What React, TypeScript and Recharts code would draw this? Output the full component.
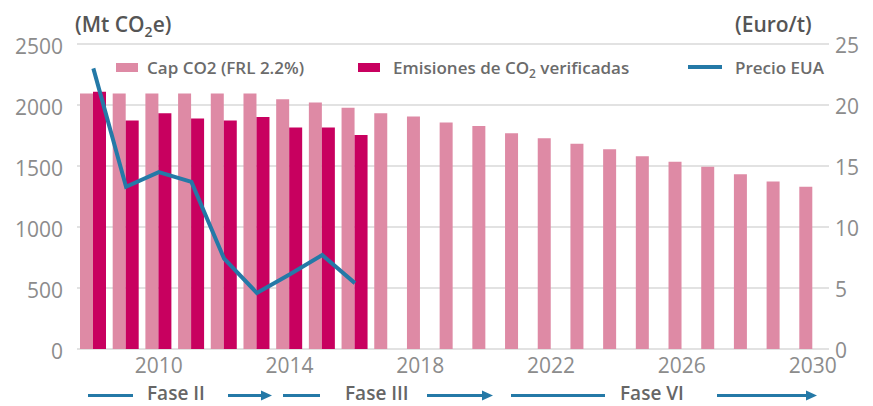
import React from 'react';
import { ComposedChart, Bar, Line, XAxis, YAxis, CartesianGrid, Legend } from 'recharts';

const years = [2008, 2009, 2010, 2011, 2012, 2013, 2014, 2015, 2016, 2017, 2018, 2019, 2020, 2021, 2022, 2023, 2024, 2025, 2026, 2027, 2028, 2029, 2030];
const capValues = [2095, 2095, 2095, 2095, 2095, 2095, 2048, 2021, 1977, 1933, 1905, 1856, 1828, 1768, 1727, 1683, 1637, 1579, 1535, 1494, 1433, 1373, 1330];
const emissionValues = [2108, 1872, 1932, 1889, 1872, 1902, 1815, 1815, 1754];
const priceValues = [23.0, 13.3, 14.5, 13.7, 7.4, 4.6, 6.1, 7.7, 5.4];
const leftTicks = [0, 500, 1000, 1500, 2000, 2500];
const rightTicks = [0, 5, 10, 15, 20, 25];
const xTicks = [2010, 2014, 2018, 2022, 2026, 2030];

const PINK = '#de8aa5';
const MAGENTA = '#c8005f';
const BLUE = '#2479a7';
const FONT = '"Open Sans", "Noto Sans", sans-serif';

const data = years.map((y, i) => ({
  year: y,
  cap: capValues[i],
  emis: i < emissionValues.length ? emissionValues[i] : null,
  price: i < priceValues.length ? priceValues[i] : null,
}));

const renderLegend = () => (
  <div style={{ position: 'relative', width: 873, height: 36, fontFamily: FONT, fontWeight: 600, fontSize: 17, color: '#6b6b6b', lineHeight: '24px', whiteSpace: 'nowrap' }}>
    <span style={{ position: 'absolute', left: 116, top: 13, width: 22, height: 9, background: PINK }} />
    <span style={{ position: 'absolute', left: 147, top: 6 }}>Cap CO2 (FRL 2.2%)</span>
    <span style={{ position: 'absolute', left: 358, top: 13, width: 22, height: 9, background: MAGENTA }} />
    <span style={{ position: 'absolute', left: 393, top: 6 }}>
      Emisiones de CO<span style={{ fontSize: 12, position: 'relative', top: 4 }}>2</span> verificadas
    </span>
    <span style={{ position: 'absolute', left: 688, top: 15, width: 34, height: 4, background: BLUE }} />
    <span style={{ position: 'absolute', left: 735, top: 6 }}>Precio EUA</span>
  </div>
);

const tickStyle = { fontSize: 21, fill: '#8c8c8c', fontFamily: FONT };

const PHASE_Y = 395.5;

const PhaseArrow = ({ x1, x2, head }: { x1: number; x2: number; head: boolean }) => (
  <g>
    <line x1={x1} x2={head ? x2 - 9 : x2} y1={PHASE_Y} y2={PHASE_Y} stroke={BLUE} strokeWidth={3} />
    {head && <polygon points={`${x2 - 11},${PHASE_Y - 5} ${x2},${PHASE_Y} ${x2 - 11},${PHASE_Y + 5}`} fill={BLUE} />}
  </g>
);

export default function App() {
  return (
    <div style={{ position: 'absolute', left: 0, top: 0, width: 873, height: 406, background: '#fff' }}>
      <ComposedChart
        width={873}
        height={406}
        data={data}
        margin={{ top: 44, right: 0, bottom: 27, left: 0 }}
        barGap={0}
        barSize={13}
      >
        <CartesianGrid vertical={false} stroke="#d9d9d9" strokeWidth={1.5} yAxisId="left" />
        <XAxis
          dataKey="year"
          ticks={xTicks}
          interval={0}
          axisLine={false}
          tickLine={false}
          tickSize={0}
          tickMargin={9}
          height={30}
          tick={tickStyle}
        />
        <YAxis
          yAxisId="left"
          width={77}
          domain={[0, 2500]}
          ticks={leftTicks}
          interval={0}
          axisLine={false}
          tickLine={false}
          tickSize={0}
          tickMargin={14}
          tick={{ ...tickStyle, dy: 3 }}
        />
        <YAxis
          yAxisId="right"
          orientation="right"
          width={44}
          domain={[0, 25]}
          ticks={rightTicks}
          interval={0}
          axisLine={false}
          tickLine={false}
          tickSize={0}
          tickMargin={6}
          tick={{ ...tickStyle, dy: 2 }}
        />
        <Bar yAxisId="left" dataKey="cap" fill={PINK} isAnimationActive={false} />
        <Bar yAxisId="left" dataKey="emis" fill={MAGENTA} isAnimationActive={false} />
        <Line
          yAxisId="right"
          dataKey="price"
          type="linear"
          stroke={BLUE}
          strokeWidth={4}
          dot={false}
          activeDot={false}
          connectNulls={false}
          isAnimationActive={false}
        />
        <Legend
          content={renderLegend}
          verticalAlign="middle"
          align="center"
          layout="horizontal"
          wrapperStyle={{ top: 50, left: 0, width: 873, height: 36 }}
        />
      </ComposedChart>
      <svg width={873} height={406} style={{ position: 'absolute', left: 0, top: 0, pointerEvents: 'none' }}>
        <text x={75} y={32} fontFamily={FONT} fontWeight={600} fontSize={21} fill="#555">
          (Mt CO<tspan fontSize={14} dy={5}>2</tspan>
          <tspan dy={-5}>e)</tspan>
        </text>
        <text x={735} y={32} fontFamily={FONT} fontWeight={600} fontSize={21} fill="#555">(Euro/t)</text>
        <PhaseArrow x1={88} x2={133} head={false} />
        <text x={147} y={400} fontFamily={FONT} fontWeight={600} fontSize={19} fill="#666">Fase II</text>
        <PhaseArrow x1={228} x2={272} head={true} />
        <PhaseArrow x1={283} x2={320} head={false} />
        <text x={345} y={400} fontFamily={FONT} fontWeight={600} fontSize={19} fill="#666">Fase III</text>
        <PhaseArrow x1={427} x2={493} head={true} />
        <PhaseArrow x1={511} x2={605} head={false} />
        <text x={620} y={400} fontFamily={FONT} fontWeight={600} fontSize={19} fill="#666">Fase VI</text>
        <PhaseArrow x1={717} x2={817} head={true} />
      </svg>
    </div>
  );
}
